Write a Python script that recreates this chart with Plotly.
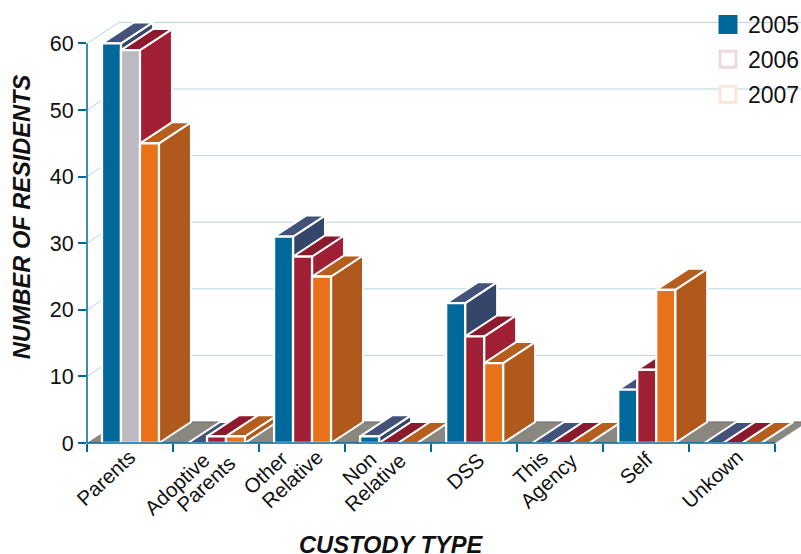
import plotly.graph_objects as go

categories = ["Parents", "Adoptive<br>Parents", "Other<br>Relative", "Non<br>Relative", "DSS", "This<br>Agency", "Self", "Unkown"]
years = ["2005", "2006", "2007"]
v2005 = [60, 0, 31, 1, 21, 0, 8, 0]
v2006 = [59, 1, 28, 0, 16, 0, 11, 0]
v2007 = [45, 1, 25, 0, 12, 0, 23, 0]
values = [v2005, v2006, v2007]
yticks = [0, 10, 20, 30, 40, 50, 60]

# pixel centre of each rotated label line, per category
label_centres = [
    [(105.3, 476.7)],
    [(176.7, 483.3), (205.3, 482.8)],
    [(265.3, 472.5), (292.0, 478.3)],
    [(358.3, 467.7), (374.3, 482.0)],
    [(464.3, 470.7)],
    [(530.0, 467.3), (548.3, 480.0)],
    [(636.3, 467.3)],
    [(712.3, 478.0)],
]

front_colors = ["#00689a", "#a01f35", "#e9711a"]
side_colors = ["#34466a", "#a01f35", "#b0591d"]
top_colors = ["#43527a", "#8a1a2c", "#b55e1e"]
parents_2006_front = "#bdb9c3"
legend_fill = ["#00689a", "#ffffff", "#ffffff"]
legend_line = ["#00689a", "#f0d9dc", "#fbe8da"]

# pixel scale of the axes
X0_PX, X_STEP = 86.5, 86.1
Y0_PX, Y_STEP = 442.7, 6.655
XMAX = (801 - X0_PX) / X_STEP
YMAX = Y0_PX / Y_STEP

# depth vector and bar slots, in axis units
DX = 32 / X_STEP
DY = 21 / Y_STEP
OFFSET = 15 / X_STEP
SLOT = 19 / X_STEP

GRID = "#b5d5e3"
AXIS = "#00699b"
FONT = "Liberation Sans"
INK = "#111111"

fig = go.Figure()


def paper_x(px):
    return (px - X0_PX) / (801 - X0_PX)


def paper_y(py):
    return (Y0_PX - py) / Y0_PX


def poly(xs, ys, fill, line="#ffffff", width=2, z=0):
    fig.add_trace(go.Scatter(x=xs + xs[:1], y=ys + ys[:1], mode="lines", fill="toself", fillcolor=fill,
                             line=dict(color=line, width=width), showlegend=False, hoverinfo="skip", zorder=z))


# back wall gridlines
for t in yticks[1:]:
    fig.add_trace(go.Scatter(x=[0, DX, XMAX + 1], y=[t, t + DY, t + DY], mode="lines",
                             line=dict(color=GRID, width=1), showlegend=False, hoverinfo="skip", zorder=0))

# floor
poly([0, DX, 8 + DX, 8], [0, DY, DY, 0], "#8a8781", line="#8a8781", width=0, z=1)
fig.add_trace(go.Scatter(x=[DX, 8 + DX], y=[DY, DY], mode="lines", line=dict(color="#6a6864", width=1),
                         showlegend=False, hoverinfo="skip", zorder=1))

z = 2
for g in range(len(categories)):
    for s in range(len(years)):
        v = values[s][g]
        x0 = g + OFFSET + s * SLOT
        x1 = x0 + SLOT
        poly([x1, x1 + DX, x1 + DX, x1], [0, DY, v + DY, v], side_colors[s], z=z)
        poly([x0, x1, x1 + DX, x0 + DX], [v, v, v + DY, v + DY], top_colors[s], z=z + 1)
        if v > 0:
            col = parents_2006_front if (g == 0 and s == 1) else front_colors[s]
            fig.add_trace(go.Bar(x=[g], y=[v], width=SLOT, offset=OFFSET + s * SLOT, marker_color=col,
                                 marker_line=dict(color="#ffffff", width=2.3), showlegend=False,
                                 hoverinfo="skip", zorder=z + 2))
        z += 3

# legend entries
for s, name in enumerate(years):
    fig.add_trace(go.Scatter(x=[None], y=[None], mode="markers", name=name, legendgroup=name,
                             marker=dict(symbol="square", size=16, color=legend_fill[s],
                                         line=dict(color=legend_line[s], width=3))))

annotations = [
    dict(text="<b><i>NUMBER OF RESIDENTS</i></b>", xref="paper", yref="paper",
         x=paper_x(21), y=paper_y(216.5), textangle=-90, showarrow=False, xanchor="center", yanchor="middle",
         font=dict(size=23.6, family=FONT, color=INK)),
    dict(text="<b><i>CUSTODY TYPE</i></b>", xref="paper", yref="paper",
         x=paper_x(391.5), y=paper_y(544.5), showarrow=False, xanchor="center", yanchor="middle",
         font=dict(size=23.7, family=FONT, color=INK)),
]
for cat, centres in zip(categories, label_centres):
    for line, (px, py) in zip(cat.split("<br>"), centres):
        annotations.append(dict(text=line, xref="paper", yref="paper", x=paper_x(px), y=paper_y(py),
                                textangle=-43, showarrow=False, xanchor="center", yanchor="middle",
                                font=dict(size=20.5, family=FONT, color=INK)))

axis_shapes = [
    dict(type="line", xref="paper", yref="y", x0=0, x1=0, y0=0, y1=60, line=dict(color=AXIS, width=1.5), layer="above"),
    dict(type="line", xref="x", yref="paper", x0=0, x1=8, y0=0, y1=0, line=dict(color=AXIS, width=1.5), layer="above"),
]

fig.update_layout(
    width=801, height=554, autosize=False,
    margin=dict(l=X0_PX, r=0, t=0, b=554 - Y0_PX, pad=0, autoexpand=False),
    paper_bgcolor="#ffffff", plot_bgcolor="#ffffff",
    barmode="overlay",
    font=dict(family=FONT, color=INK, size=20),
    legend=dict(xref="container", yref="container", x=708 / 801, y=1 - 3 / 554, xanchor="left", yanchor="top",
                font=dict(size=23, family=FONT), itemwidth=30, tracegroupgap=2,
                bgcolor="rgba(0,0,0,0)"),
    xaxis=dict(range=[0, XMAX], tickvals=list(range(9)), showticklabels=False, showgrid=False, zeroline=False,
               showline=False, ticks="outside", ticklen=8, tickwidth=1.5,
               tickcolor=AXIS, automargin=False, fixedrange=True),
    yaxis=dict(range=[0, YMAX], tickvals=yticks, showgrid=False, zeroline=False,
               showline=False, ticks="outside", ticklen=8, tickwidth=1.5,
               tickcolor=AXIS, tickfont=dict(size=21.5, family=FONT, color=INK), automargin=False, fixedrange=True),
    annotations=annotations,
    shapes=axis_shapes,
)
fig.write_html("out.html", config=dict(displayModeBar=False), post_script="document.body.style.margin='0';")
